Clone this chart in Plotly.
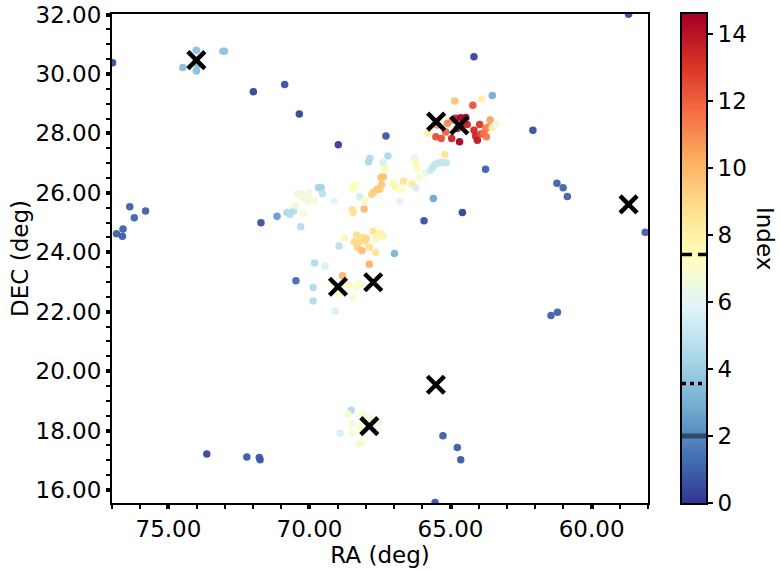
import numpy as np
import plotly.graph_objects as go

# source positions (deg) and colour index
ra = [76.98, 71.99, 70.88, 70.36, 68.98, 67.29, 76.37, 76.21, 75.81, 76.61, 76.84, 76.63,
      71.72, 71.15, 64.17, 58.69, 62.08, 63.76, 61.23, 61.01, 60.86, 58.10, 65.94, 64.58,
      65.61, 63.52, 66.99, 70.48, 61.44, 61.21, 65.27, 64.76, 64.64, 65.55, 73.64, 72.22,
      71.78, 71.75,
      74.01, 74.49, 74.01, 73.96, 73.01, 73.07,
      70.31, 70.80, 70.69, 70.57, 70.50, 70.21, 70.42, 70.30, 70.24, 70.01, 70.03, 69.83,
      69.68, 69.59, 69.54, 69.12, 68.48, 68.35, 68.44, 68.23, 68.04, 68.48, 68.45, 68.06,
      67.86, 67.91, 67.39, 67.22, 67.32, 67.47, 67.38, 67.44, 67.59, 67.51, 67.73, 67.79,
      67.04, 66.94, 66.80, 66.73, 66.67, 66.37, 66.23, 66.80, 66.27, 66.20, 66.23, 66.12,
      65.88, 65.70, 65.62, 65.53, 65.41, 65.31, 65.15, 65.20, 65.82,
      64.85, 63.90, 64.21, 65.52, 65.33, 65.17, 65.47, 65.11, 64.94, 64.82, 64.64, 64.46,
      64.52, 64.76, 64.96, 64.68, 64.41, 64.17, 63.97, 64.11, 64.05, 63.93, 63.76, 63.66,
      63.73, 63.82, 63.60, 63.52, 63.38,
      68.95, 68.77, 68.33, 68.41, 68.26, 68.12, 68.03, 67.98, 68.30, 68.14, 67.88, 67.74,
      67.65, 67.47, 67.39, 67.65, 67.88, 69.82, 69.45, 69.87, 69.87, 69.09, 68.83, 69.16,
      68.95, 68.57, 68.35, 68.21, 68.45, 68.77,
      68.52, 68.63, 68.12, 68.50, 68.21, 67.56, 68.91, 68.48, 68.24, 68.16, 67.88, 68.03]
dec = [30.38, 29.40, 29.65, 28.65, 27.62, 27.91, 25.53, 25.16, 25.39, 24.78, 24.62, 24.54,
       24.99, 25.21, 30.58, 32.01, 28.11, 26.79, 26.32, 26.17, 25.88, 24.67, 25.06, 25.34,
       25.81, 29.28, 23.96, 23.04, 21.87, 21.98, 17.82, 17.43, 17.02, 15.58, 17.21, 17.11,
       17.09, 17.02,
       30.80, 30.22, 30.10, 30.30, 30.77, 30.77,
       24.86, 25.34, 25.27, 25.39, 25.57, 25.32, 25.96, 25.96, 25.85, 26.01, 25.75, 25.73,
       26.17, 26.17, 25.98, 25.72, 26.23, 26.26, 26.15, 25.87, 25.73, 25.44, 25.34, 25.46,
       27.16, 27.04, 27.01, 27.24, 26.81, 26.52, 26.54, 26.28, 26.12, 26.12, 26.03, 25.95,
       26.32, 26.20, 26.11, 26.11, 26.39, 26.29, 26.17, 25.70, 27.17, 26.82, 27.01, 26.51,
       26.67, 26.76, 26.88, 26.97, 27.01, 27.02, 27.01, 27.28, 28.00,
       29.09, 29.15, 28.95, 27.89, 27.83, 28.05, 28.28, 28.34, 28.45, 28.51, 28.53, 28.54,
       28.34, 28.17, 27.83, 27.72, 28.30, 28.11, 28.30, 27.91, 27.77, 27.98, 28.17, 28.22,
       27.89, 28.00, 28.45, 28.19, 28.30,
       24.21, 24.48, 24.58, 24.35, 24.35, 24.50, 24.38, 24.46, 24.16, 24.05, 24.18, 24.71,
       24.46, 24.63, 24.55, 23.99, 23.60, 23.64, 23.53, 22.81, 22.36, 22.02, 23.21, 22.95,
       22.61, 22.89, 22.81, 22.95, 22.48, 22.92,
       18.68, 18.55, 18.52, 18.21, 18.12, 18.26, 17.91, 17.91, 17.56, 17.60, 18.41, 18.31]
index = [0.5, 0.3, 0.6, 0.3, 0.2, 0.8, 1.0, 1.1, 1.0, 1.0, 1.0, 0.9,
         0.6, 2.5, 0.3, 0.5, 0.5, 1.0, 1.0, 1.1, 1.0, 1.0, 0.6, 0.3,
         2.8, 3.0, 3.2, 1.2, 1.0, 1.0, 0.9, 0.9, 0.8, 0.8, 0.4, 0.8,
         0.8, 0.8,
         3.6, 3.5, 3.5, 3.5, 3.7, 3.7,
         4.6, 4.5, 4.7, 4.6, 6.6, 6.9, 6.6, 6.6, 6.7, 6.5, 6.7, 6.8,
         4.2, 4.2, 4.8, 6.0, 7.4, 7.2, 7.3, 5.5, 7.5, 8.6, 8.6, 9.8,
         4.5, 4.4, 5.6, 4.5, 7.6, 9.6, 9.6, 9.5, 9.6, 9.4, 9.3, 9.2,
         7.6, 7.8, 7.4, 7.2, 8.5, 8.3, 5.5, 6.0, 6.1, 7.4, 7.6, 7.0,
         6.3, 5.2, 5.0, 5.0, 5.1, 5.0, 5.0, 8.6, 8.0,
         9.6, 8.1, 12.3, 12.4, 12.4, 12.0, 10.8, 11.0, 11.0, 13.6, 14.5, 14.4,
         14.6, 14.1, 13.5, 14.6, 13.5, 13.4, 13.0, 13.5, 13.8, 12.6, 11.4, 11.0,
         11.4, 11.6, 10.5, 8.0, 6.6,
         4.8, 7.6, 8.8, 8.9, 8.9, 8.7, 8.9, 9.0, 9.1, 9.8, 8.8, 8.5,
         7.8, 7.8, 7.8, 8.5, 10.2, 4.5, 5.6, 4.5, 4.5, 5.6, 10.0, 7.0,
         7.2, 7.0, 6.9, 7.1, 6.8, 7.3,
         4.5, 6.8, 6.9, 6.8, 6.9, 6.2, 5.6, 6.9, 6.8, 6.9, 6.6, 7.0]

# cluster centres marked with crosses
cross_ra = [74.01, 65.51, 64.69, 58.69, 68.99, 67.74, 65.52, 67.88]
cross_dec = [30.47, 28.40, 28.27, 25.61, 22.84, 22.99, 19.54, 18.15]

# reference levels on the colour bar
levels = [2.0, 3.57, 7.42]
level_styles = [("#2e4a68", "solid", 5), ("black", "4px,4px", 3.5), ("black", "10px,6px", 3.5)]

cmin, cmax = 0, 14.6
font = dict(family="DejaVu Sans", size=23, color="black")

fig = go.Figure()
fig.add_trace(go.Scatter(
    x=ra, y=dec, mode="markers",
    marker=dict(size=7.5, color=index, colorscale="RdYlBu_r", cmin=cmin, cmax=cmax,
                opacity=0.95, line=dict(width=0), showscale=False),
    showlegend=False))
fig.add_trace(go.Scatter(
    x=cross_ra, y=cross_dec, mode="markers",
    marker=dict(symbol="x-thin", size=17, line=dict(width=4.5, color="black")),
    showlegend=False))

# hand-made colour bar on its own axes so the level lines can sit on top of it
bar_vals = np.linspace(cmin, cmax, 400)
fig.add_trace(go.Heatmap(
    x=[0], y=bar_vals, z=[[v] for v in bar_vals], colorscale="RdYlBu_r",
    zmin=cmin, zmax=cmax, showscale=False, hoverinfo="skip",
    xaxis="x2", yaxis="y2"))
for v, (col, dash, w) in zip(levels, level_styles):
    fig.add_shape(type="line", xref="x2 domain", yref="y2",
                  x0=0, x1=1, y0=v, y1=v,
                  line=dict(color=col, dash=dash, width=w))

fig.add_annotation(text="Index", xref="paper", yref="paper", x=1.0993, y=0.54,
                   xanchor="center", yanchor="middle",
                   showarrow=False, textangle=90, font=font)

axis_common = dict(showline=True, linecolor="black", linewidth=2, mirror=True,
                   ticks="outside", ticklen=4, tickwidth=3.5, tickcolor="black",
                   showgrid=False, zeroline=False, tickformat=".2f", tickfont=font,
                   automargin=False)
fig.update_layout(
    xaxis=dict(domain=[0, 0.9024], range=[77, 58], dtick=5, tick0=0,
               minor=dict(dtick=1, ticks="outside", ticklen=4, tickwidth=1.5, tickcolor="black"),
               title=dict(text="RA (deg)", font=font, standoff=1), **axis_common),
    yaxis=dict(range=[15.56, 32.02], dtick=2, tick0=0,
               minor=dict(dtick=0.5, ticks="outside", ticklen=4, tickwidth=1.5, tickcolor="black"),
               title=dict(text="DEC (deg)", font=font, standoff=0), **axis_common),
    xaxis2=dict(domain=[0.9596, 1.0], range=[-0.5, 0.5], anchor="y2",
                showline=True, linecolor="black", linewidth=2, mirror=True,
                showticklabels=False, ticks="", showgrid=False, zeroline=False),
    yaxis2=dict(range=[cmin, cmax], anchor="x2", side="right",
                showline=True, linecolor="black", linewidth=2, mirror=True,
                ticks="outside", ticklen=5, tickwidth=1.5, tickcolor="black",
                tickvals=[0, 2, 4, 6, 8, 10, 12, 14], tickfont=font,
                showgrid=False, zeroline=False, automargin=False),
    width=780, height=571,
    margin=dict(l=112, r=74, t=14, b=68, autoexpand=False),
    plot_bgcolor="white", paper_bgcolor="white", font=font)

# drop the default page margin so the figure sits at the window corner
fig.write_html("out.html", config={"displayModeBar": False},
               post_script="document.body.style.margin='0';")
